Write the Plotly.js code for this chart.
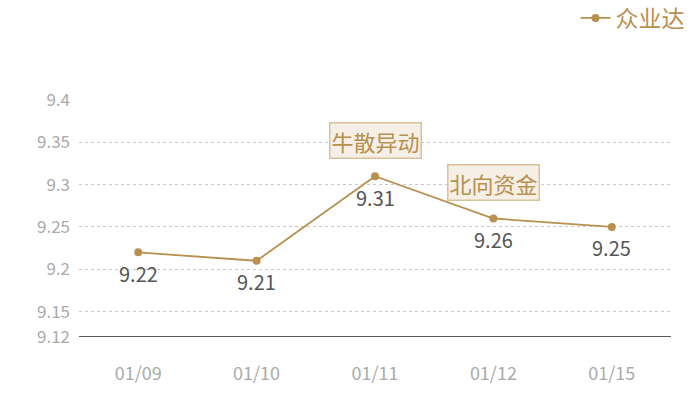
<!DOCTYPE html>
<html>
<head>
<meta charset="utf-8">
<script src="https://cdn.plot.ly/plotly-3.0.1.min.js"></script>
<style>
  html, body { margin: 0; padding: 0; background: #fff; }
  #plot { width: 700px; height: 400px; }
</style>
</head>
<body>
<div id="plot"></div>
<script>
// dates on the x axis
var dates = ["01/09", "01/10", "01/11", "01/12", "01/15"];
// closing price of 众业达
var prices = [9.22, 9.21, 9.31, 9.26, 9.25];
// y axis ticks
var yTicks = [9.12, 9.15, 9.2, 9.25, 9.3, 9.35, 9.4];
var yTickText = ["9.12", "9.15", "9.2", "9.25", "9.3", "9.35", "9.4"];
// event tags shown above points
var tagDates = ["01/11", "01/12"];
var tagY = [9.352, 9.302];
var tagText = ["牛散异动", "北向资金"];

var gold = "#b8904f";
var font = "'Noto Sans CJK SC', 'Noto Sans', sans-serif";

var trace = {
  x: dates,
  y: prices,
  type: "scatter",
  mode: "lines+markers",
  name: "众业达",
  line: { color: gold, width: 1.8 },
  marker: { color: gold, size: 8 },
  hoverinfo: "x+y"
};

// value labels under each point
var valueLabels = prices.map(function (v, i) {
  return {
    x: dates[i],
    y: v,
    xref: "x",
    yref: "y",
    text: v.toFixed(2),
    showarrow: false,
    yshift: -21,
    font: { family: font, size: 20, color: "#555555" }
  };
});

var tags = tagText.map(function (t, i) {
  return {
    x: tagDates[i],
    y: tagY[i],
    xref: "x",
    yref: "y",
    text: t,
    showarrow: false,
    font: { family: font, size: 22, color: gold },
    bgcolor: "#f5efe6",
    bordercolor: "#d8c09a",
    borderwidth: 1.5,
    borderpad: 1
  };
});

var layout = {
  width: 700,
  height: 400,
  margin: { l: 79, r: 29, t: 100, b: 63, autoexpand: false },
  paper_bgcolor: "#ffffff",
  plot_bgcolor: "#ffffff",
  font: { family: font },
  showlegend: true,
  legend: {
    xref: "container", yref: "container",
    x: 0.985, y: 0.955, xanchor: "right", yanchor: "middle",
    orientation: "h",
    font: { family: font, size: 23, color: gold },
    itemwidth: 30
  },
  xaxis: {
    type: "category",
    range: [-0.5, 4.5],
    showgrid: false,
    zeroline: false,
    showline: false,
    ticks: "",
    ticklabelstandoff: 24,
    tickfont: { family: font, size: 18, color: "#aaaaaa" },
    fixedrange: true
  },
  yaxis: {
    range: [9.12, 9.4],
    tickvals: yTicks,
    ticktext: yTickText,
    showgrid: true,
    gridcolor: "#c8c8c8",
    griddash: "dot",
    gridwidth: 1,
    zeroline: false,
    showline: false,
    ticks: "",
    tickfont: { family: font, size: 17, color: "#aaaaaa" },
    ticklabelstandoff: 8,
    fixedrange: true
  },
  shapes: [{
    type: "line", xref: "paper", yref: "y",
    x0: 0, x1: 1, y0: 9.12, y1: 9.12,
    line: { color: "#222222", width: 1.5 }
  }],
  annotations: valueLabels.concat(tags)
};

Plotly.newPlot("plot", [trace], layout, { displayModeBar: false, staticPlot: true });
</script>
</body>
</html>
